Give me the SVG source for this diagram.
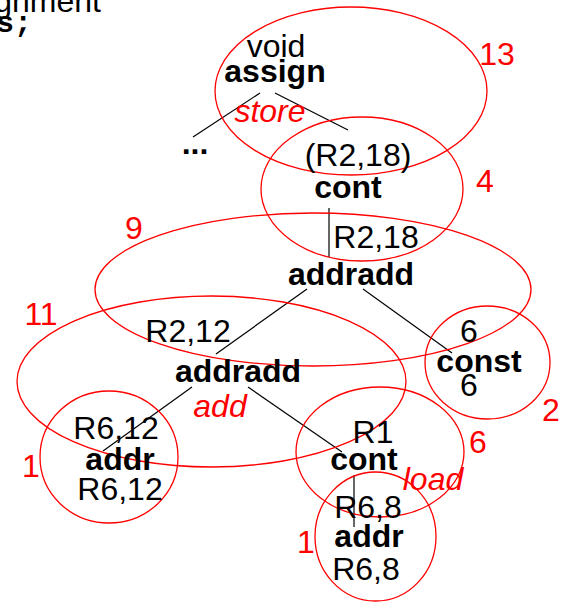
<svg xmlns="http://www.w3.org/2000/svg" width="572" height="608" viewBox="0 0 572 608">
  <style>
    .t{font-family:"Liberation Sans",Arial,sans-serif;font-size:32px;fill:#000;text-anchor:middle}
    .b{font-weight:bold}
    .r{fill:#f00}
    .i{font-style:italic}
    .mono{font-family:"Liberation Mono","Courier New",monospace;font-weight:bold;font-size:30px;fill:#000}
    .ring{fill:none;stroke:#f00;stroke-width:1.3}
    .edge{stroke:#000;stroke-width:1.2;fill:none}
  </style>
  <rect width="572" height="608" fill="#fff"/>

  <!-- leftover lines of the source text at the top left -->
  <g id="source-text">
    <text class="t" x="101" y="12" style="text-anchor:end">gnment</text>
    <text class="mono" x="-4" y="32">s;</text>
  </g>

  <!-- tree edges -->
  <g id="connectors">
    <line class="edge" x1="260" y1="93" x2="193" y2="137"/>
    <line class="edge" x1="275" y1="93" x2="348" y2="130"/>
    <line class="edge" x1="329" y1="208" x2="329" y2="257"/>
    <line class="edge" x1="307" y1="289" x2="216" y2="354"/>
    <line class="edge" x1="363" y1="289" x2="452" y2="353"/>
    <line class="edge" x1="192" y1="387" x2="103" y2="451"/>
    <line class="edge" x1="248" y1="387" x2="342" y2="452"/>
    <line class="edge" x1="354" y1="475" x2="354" y2="527" stroke="#444"/>
  </g>

  <g id="assign">
    <ellipse class="ring" cx="351" cy="91" rx="136" ry="84"/>
    <text class="t" x="276" y="57">void</text>
    <text class="t b" x="275" y="82">assign</text>
    <text class="t r i" x="270" y="122">store</text>
    <text class="t r" x="497" y="65">13</text>
  </g>

  <g id="rest">
    <text class="t b" x="195" y="154">...</text>
  </g>

  <g id="cont-top">
    <ellipse class="ring" cx="362" cy="189" rx="101" ry="72"/>
    <text class="t" x="358" y="166">(R2,18)</text>
    <text class="t b" x="348" y="198">cont</text>
    <text class="t r" x="485" y="192">4</text>
  </g>

  <g id="addradd-top">
    <ellipse class="ring" cx="313" cy="289.5" rx="218" ry="76.5"/>
    <text class="t" x="376" y="248">R2,18</text>
    <text class="t b" x="351" y="285">addradd</text>
    <text class="t r" x="134" y="239">9</text>
  </g>

  <g id="addradd-low">
    <ellipse class="ring" cx="211.5" cy="381.5" rx="194.5" ry="85.5"/>
    <text class="t" x="188" y="342">R2,12</text>
    <text class="t b" x="238" y="382">addradd</text>
    <text class="t r i" x="220" y="417">add</text>
    <text class="t r" x="41" y="325">11</text>
  </g>

  <g id="const">
    <ellipse class="ring" cx="487.5" cy="362.5" rx="62.5" ry="56.5"/>
    <text class="t" x="469" y="342">6</text>
    <text class="t b" x="479" y="372">const</text>
    <text class="t" x="469" y="396">6</text>
    <text class="t r" x="551" y="421">2</text>
  </g>

  <g id="addr-left">
    <ellipse class="ring" cx="109" cy="457" rx="69" ry="66"/>
    <text class="t" x="116" y="439">R6,12</text>
    <text class="t b" x="120" y="470">addr</text>
    <text class="t" x="120" y="500">R6,12</text>
    <text class="t r" x="31" y="477">1</text>
  </g>

  <g id="cont-load">
    <ellipse class="ring" cx="380" cy="452" rx="84" ry="65"/>
    <text class="t" x="373" y="443">R1</text>
    <text class="t b" x="364" y="470">cont</text>
    <text class="t r i" x="433" y="490">load</text>
    <text class="t r" x="478" y="453">6</text>
  </g>

  <g id="addr-bottom">
    <ellipse class="ring" cx="375.5" cy="536.5" rx="60.5" ry="64.5"/>
    <text class="t" x="368" y="518">R6,8</text>
    <text class="t b" x="369" y="547">addr</text>
    <text class="t" x="366" y="580">R6,8</text>
    <text class="t r" x="306" y="553">1</text>
  </g>
</svg>
